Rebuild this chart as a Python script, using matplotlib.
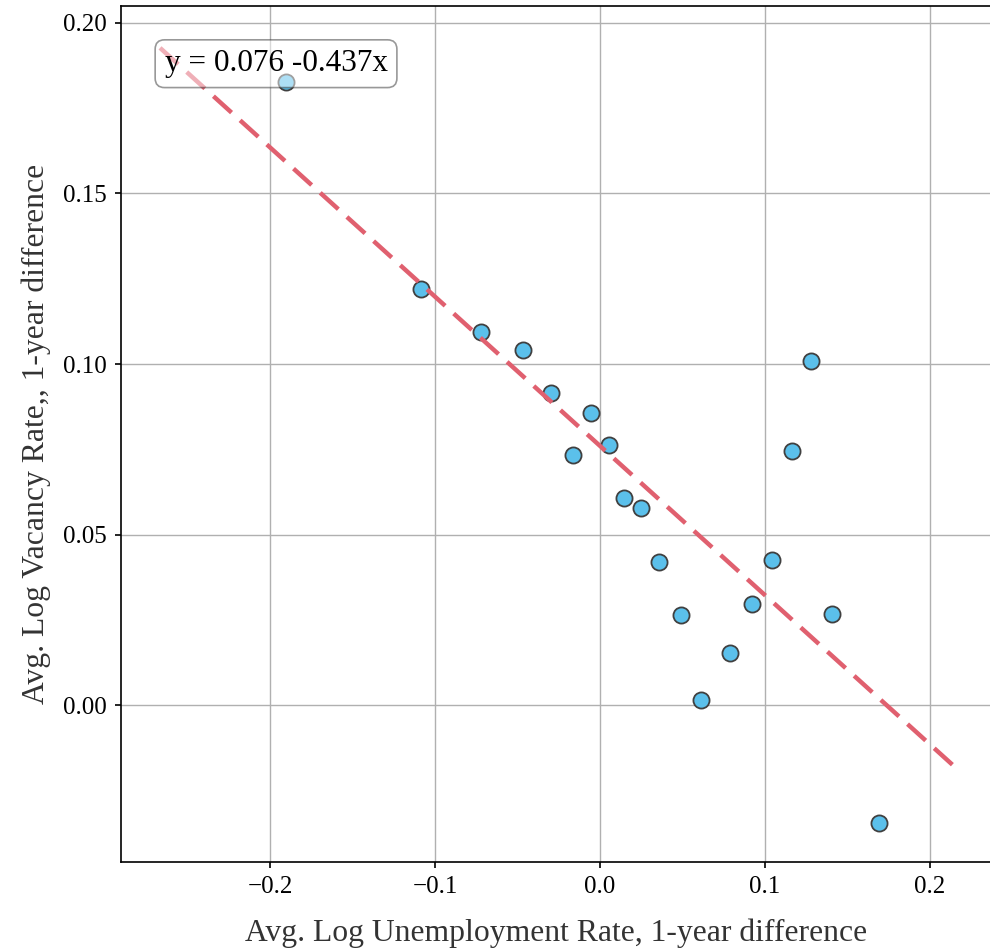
import numpy as np
import matplotlib
matplotlib.use("Agg")
import matplotlib.pyplot as plt

plt.rcParams['font.family'] = ['Liberation Serif', 'DejaVu Serif']

# yearly differences, unemployment vs vacancies
du = [-0.1906, -0.1087, -0.0722, -0.0467, -0.0297, -0.0055, -0.0164, 0.0055,
      0.0146, 0.0249, 0.0358, 0.0492, 0.0613, 0.0789, 0.0923, 0.1044,
      0.1165, 0.1281, 0.1408, 0.1693]
dv = [0.1827, 0.1220, 0.1094, 0.1041, 0.0915, 0.0856, 0.0733, 0.0762,
      0.0607, 0.0578, 0.0419, 0.0264, 0.0015, 0.0152, 0.0296, 0.0425,
      0.0745, 0.1009, 0.0267, -0.0346]

intercept = 0.076
slope = -0.437
fit_x = [-0.267, 0.219]

fig = plt.figure(figsize=(9.9, 9.52), dpi=100)
ax = fig.add_axes([0.1222, 0.0945, 0.8798, 0.8997])

ax.scatter(du, dv, s=135, c='#5BC0EB', edgecolors='#404040', linewidths=1.3, zorder=3)

fx = np.array(fit_x)
ax.plot(fx, intercept + slope * fx, color='#E0606F', lw=3.2, ls=(0, (5.5, 2.6)), zorder=4)

ax.text(0.05, 0.949, f"y = {intercept:.3f} {slope:.3f}x", transform=ax.transAxes,
        fontsize=22.5, va='top', ha='left', zorder=5,
        bbox=dict(boxstyle='round,pad=0.3', facecolor='white', edgecolor='#333333',
                  alpha=0.5, linewidth=1.2))

ax.set_xlim(-0.2907, 0.2379)
ax.set_ylim(-0.0460, 0.2051)
ax.set_xticks([-0.2, -0.1, 0.0, 0.1, 0.2])
ax.set_yticks([0.0, 0.05, 0.10, 0.15, 0.20])
ax.set_yticklabels(['0.00', '0.05', '0.10', '0.15', '0.20'])
ax.set_xticklabels(['\u22120.2', '\u22120.1', '0.0', '0.1', '0.2'])
ax.grid(True, color='#b0b0b0', lw=1.0)
ax.set_axisbelow(True)
ax.tick_params(labelsize=18, length=4, width=1.2, pad=6)
for s in ax.spines.values():
    s.set_linewidth(1.2)

ax.set_xlabel('Avg. Log Unemployment Rate, 1-year difference', fontsize=22.8, color='#333333', labelpad=15)
ax.set_ylabel('Avg. Log Vacancy Rate,, 1-year difference', fontsize=22.8, color='#333333', labelpad=9)

fig.savefig('out.png', dpi=100)
